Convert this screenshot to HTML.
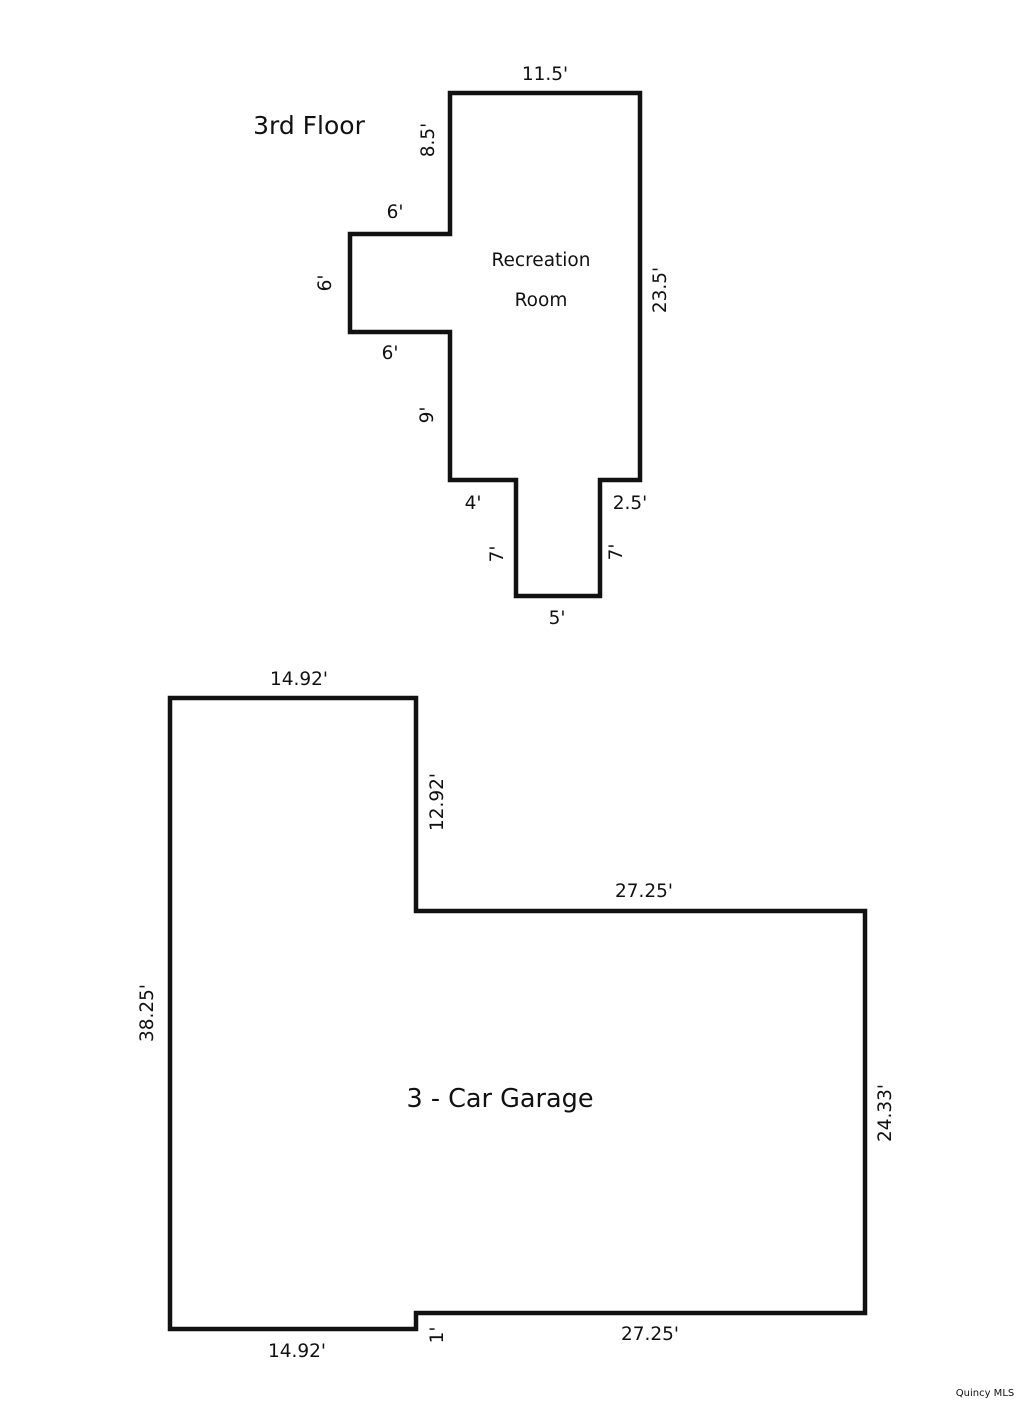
<!DOCTYPE html>
<html><head><meta charset="utf-8"><style>
html,body{margin:0;padding:0;background:#fff;}
svg{display:block;}
text{font-family:"DejaVu Sans","Liberation Sans",sans-serif;fill:#111;}
</style></head><body>
<svg width="1024" height="1402" viewBox="0 0 1024 1402" xmlns="http://www.w3.org/2000/svg">
<polygon points="450,93 640,93 640,480 600,480 600,596 516,596 516,480 450,480 450,332 350,332 350,234 450,234" fill="none" stroke="#111" stroke-width="4.5"/>
<polygon points="170,698 416,698 416,911 865,911 865,1313 416,1313 416,1329 170,1329" fill="none" stroke="#111" stroke-width="4.5"/>
<g font-size="18.5" text-anchor="middle">
<text x="545" y="80">11.5'</text>
<text x="309" y="134" font-size="25">3rd Floor</text>
<text transform="translate(434,140) rotate(-90)">8.5'</text>
<text x="395" y="218">6'</text>
<text transform="translate(331,283) rotate(-90)">6'</text>
<text x="390" y="359">6'</text>
<text transform="translate(433,415) rotate(-90)">9'</text>
<text x="541" y="266">Recreation</text>
<text x="541" y="306">Room</text>
<text transform="translate(666,290) rotate(-90)">23.5'</text>
<text x="473" y="509">4'</text>
<text x="630" y="509">2.5'</text>
<text transform="translate(503,554) rotate(-90)">7'</text>
<text transform="translate(622,552) rotate(-90)">7'</text>
<text x="557" y="624">5'</text>
<text x="299" y="685">14.92'</text>
<text transform="translate(443,802) rotate(-90)">12.92'</text>
<text x="644" y="897">27.25'</text>
<text transform="translate(153,1013) rotate(-90)">38.25'</text>
<text x="500" y="1107" font-size="25.5">3 - Car Garage</text>
<text transform="translate(891,1113) rotate(-90)">24.33'</text>
<text x="297" y="1357">14.92'</text>
<text transform="translate(443,1335) rotate(-90)">1'</text>
<text x="650" y="1340">27.25'</text>
<text x="985" y="1396" font-size="10">Quincy MLS</text>
</g>
</svg>
</body></html>
